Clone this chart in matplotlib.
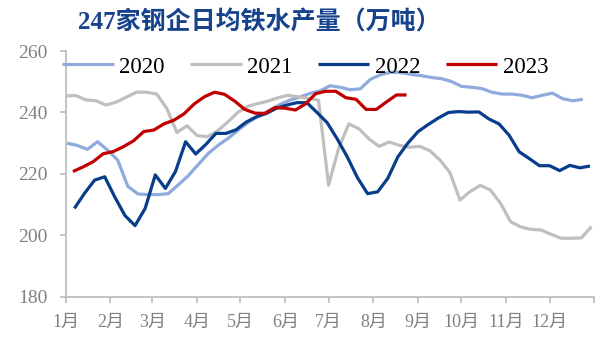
import matplotlib

matplotlib.use("Agg")
import matplotlib.pyplot as plt
import pandas as pd

# weekly hot-metal output of 247 mills, 10k t/day
Y2020 = [230.0, 229.3, 228.0, 230.5, 227.8, 224.5, 216.0, 213.5, 213.3, 213.3,
         213.6, 216.5, 219.5, 223.2, 226.8, 229.5, 231.8, 234.5, 237.0, 238.9,
         240.7, 242.5, 244.0, 245.0, 246.2, 247.0, 248.7, 248.2, 247.4, 247.7,
         250.8, 252.3, 253.1, 253.0, 252.4, 252.0, 251.4, 251.0, 250.1, 248.5,
         248.2, 247.8, 246.6, 246.0, 246.0, 245.6, 244.8, 245.6, 246.3, 244.5,
         243.8, 244.3]
Y2021 = [245.4, 245.5, 244.1, 243.8, 242.4, 243.4, 245.0, 246.6, 246.6, 246.0,
         241.3, 233.5, 235.7, 232.5, 232.1, 234.0, 236.8, 240.0, 242.0, 242.9,
         243.7, 244.8, 245.6, 245.1, 244.6, 244.0, 216.4, 228.4, 236.3, 234.7,
         231.4, 229.0, 230.4, 229.3, 228.7, 229.0, 227.6, 224.6, 220.5, 211.5,
         214.3, 216.3, 214.8, 210.5, 204.5, 202.8, 202.0, 201.8, 200.4, 199.1,
         199.1, 199.2, 202.9]
Y2022 = [208.8, 213.7, 218.0, 219.1, 212.5, 206.5, 203.2, 208.8, 219.7, 215.3,
         220.8, 230.5, 226.5, 229.6, 233.2, 233.2, 234.4, 236.9, 238.6, 239.7,
         241.4, 242.4, 243.2, 243.2, 240.0, 236.7, 231.4, 225.5, 218.8, 213.6,
         214.2, 218.6, 225.6, 230.1, 233.8, 236.1, 238.2, 240.0, 240.3, 240.1,
         240.2, 237.9, 236.3, 232.6, 227.2, 225.0, 222.7, 222.7, 221.1, 222.8,
         222.0, 222.6]
Y2023 = [220.8, 222.3, 224.0, 226.6, 227.3, 228.9, 230.8, 233.8, 234.3, 236.3,
         237.5, 239.6, 242.8, 245.1, 246.6, 245.9, 243.7, 241.0, 239.8, 239.7,
         241.6, 241.4, 240.8, 242.8, 246.1, 246.9, 246.9, 244.8, 244.3, 241.0,
         241.0, 243.4, 245.7, 245.7]

SERIES = [
    ("2020", "2020-01-02", Y2020, "#8FAADC"),
    ("2021", "2021-01-01", Y2021, "#BFBFBF"),
    ("2022", "2022-01-07", Y2022, "#083D8C"),
    ("2023", "2023-01-06", Y2023, "#C00000"),
]

MONTH_START = [0, 31, 60, 91, 121, 152, 182, 213, 244, 274, 305, 335, 366]
MONTH_LABELS = [f"{m}月" for m in range(1, 13)] + [""]
YTICKS = [180, 200, 220, 240, 260]

AXIS_GREY = "#BFBFBF"
TEXT_GREY = "#808080"
FONT = ["Liberation Serif", "Noto Sans CJK SC"]

plt.rcParams["font.family"] = FONT

fig = plt.figure(figsize=(6.04, 3.40), dpi=100)
ax = fig.add_axes([0.1088, 0.1265, 0.8752, 0.7235])

for name, start, vals, color in SERIES:
    dates = pd.date_range(start, periods=len(vals), freq="7D")
    days = (dates - pd.Timestamp(dates[0].year, 1, 1)).days
    ax.plot(days, vals, color=color, lw=2.3, label=name,
            solid_joinstyle="round", solid_capstyle="butt")

ax.set_xlim(0, 366)
ax.set_ylim(180, 260)
ax.set_xticks(MONTH_START)
ax.set_xticklabels(MONTH_LABELS)
ax.set_yticks(YTICKS)

for side in ("top", "right"):
    ax.spines[side].set_visible(False)
for side in ("left", "bottom"):
    ax.spines[side].set_color(AXIS_GREY)
    ax.spines[side].set_linewidth(1.3)
ax.tick_params(axis="both", direction="out", length=4, width=1.3,
               color=AXIS_GREY, labelcolor=TEXT_GREY)
ax.tick_params(axis="y", labelsize=14, pad=9)
ax.tick_params(axis="x", labelsize=13, pad=8)

leg = ax.legend(ncol=4, loc="center left", bbox_to_anchor=(-0.007, 0.935),
                frameon=False, fontsize=16.5, handlelength=2.25,
                handletextpad=0.25, columnspacing=1.1, borderpad=0,
                borderaxespad=0)
for t in leg.get_texts():
    t.set_color("black")

fig.text(0.43, 0.935, "247家钢企日均铁水产量（万吨）", ha="center", va="center",
         fontsize=18, fontweight="bold", color="#17428C", family=FONT)

fig.savefig("out.png", dpi=100)
